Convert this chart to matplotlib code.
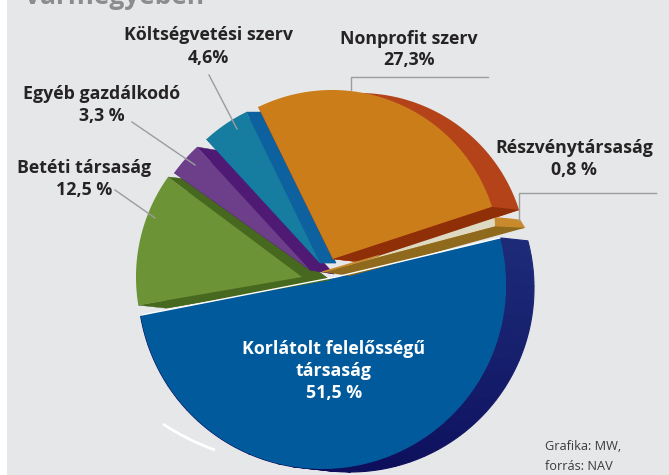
"""Pie chart of company forms, drawn by hand so the exploded 3D look can be kept."""
import numpy as np
import matplotlib
matplotlib.use("Agg")
import matplotlib.pyplot as plt
from matplotlib.colors import to_rgb
from matplotlib.patches import PathPatch, Polygon, Rectangle
from matplotlib.path import Path

plt.rcParams["font.family"] = "Open Sans"

# clockwise from the Nonprofit slice
categories = ["Nonprofit szerv", "Részvénytársaság", "Korlátolt felelősségű\ntársaság",
              "Betéti társaság", "Egyéb gazdálkodó", "Költségvetési szerv"]
values = [27.3, 0.8, 51.5, 12.5, 3.3, 4.6]
value_labels = ["27,3%", "0,8 %", "51,5 %", "12,5 %", "3,3 %", "4,6%"]

START = 116.0  # degrees, top edge of the Nonprofit slice
BG = "#e6e7e9"
LEAD = "#9b9c9e"
INK = "#262324"

# slice look: arc centre x, y, radius at both arc ends, apex x, y, wall shift x, y, face, wall
geo = [
    (332, 258, 168, 168, 333, 259, 27, 3, "#cb7d1a", "#b5431a"),
    (323, 272, 180, 204, 323, 272, 5, 8, "#c98a2e", "#c98a2e"),
    (322, 285, 184, 184, 336, 277, 28, 3, "#005a9b", "#1c2a78"),
    (308, 277, 172, 172, 302, 277, 28, 3, "#6c9335", "#47681f"),
    (310, 270, 167, 167, 310, 270, 24, 4, "#6d3f8b", "#4f1a73"),
    (320, 263, 168, 168, 320, 263, 16, 0, "#167ca0", "#0e619f"),
]

# text centres of the labels, name line then value line
label_pos = [(409, 39, 60), (574, 148, 170), (334, 349, 393),
             (84, 168, 190), (102, 94, 116), (208, 35, 58)]

leaders = [
    [(351, 90), (351, 77), (488, 77)],
    [(519, 220), (519, 193), (656, 193)],
    [(115, 190), (155, 218)],
    [(132, 122), (195, 165)],
    [(209, 75), (237, 129)],
]


def arc(g, a0, a1, n=80):
    t = np.linspace(0, 1, n)
    ang = np.radians(a0 + (a1 - a0) * t)
    r = g[2] + (g[3] - g[2]) * t
    return np.column_stack([g[0] + r * np.cos(ang), g[1] - r * np.sin(ang)])


def draw_slice(ax, g, a0, a1):
    pts = np.vstack([arc(g, a0, a1), [g[4:6]]])
    d = np.array(g[6:8])
    ax.add_patch(Polygon(pts + d, closed=True, facecolor=g[9], edgecolor="none"))
    # side walls so the extrusion joins the face
    for c in (pts[0], pts[-2]):
        ax.add_patch(Polygon([c, c + d, pts[-1] + d, pts[-1]], closed=True,
                             facecolor=g[9], edgecolor=g[9], lw=0.3))
    ax.add_patch(Polygon(pts, closed=True, facecolor=g[8], edgecolor="none"))
    return pts


fig = plt.figure(figsize=(6.69, 4.75), dpi=100, facecolor="white")
ax = fig.add_axes([0, 0, 1, 1])
ax.set_xlim(0, 669)
ax.set_ylim(475, 0)
ax.axis("off")
ax.add_patch(Rectangle((7, 0), 662, 475, facecolor=BG, edgecolor="none"))

ax.text(25, -4, "vármegyében", fontsize=19, fontweight="bold", color="#8a8c8e",
        ha="left", va="center")

# slice angles come straight from the values
spans = np.array(values) * 3.6
ends = START - np.cumsum(spans)
starts = ends + spans
a0s, a1s = starts, ends

# big slice goes first, the others sit on top of its edge
blue = geo[2]
seg = np.linspace(a0s[2], a1s[2], 40)
wall_top, wall_bottom = np.array(to_rgb("#1c2a78")), np.array(to_rgb("#0d0f5c"))
for i in range(len(seg) - 1):
    part = arc(blue, seg[i], seg[i + 1], 6)
    quad = np.vstack([part, (part + np.array(blue[6:8]))[::-1]])
    col = wall_top + (wall_bottom - wall_top) * min(i / 18, 1)
    ax.add_patch(Polygon(quad, closed=True, edgecolor=col, facecolor=col, lw=0.8))
blue_pts = np.vstack([arc(blue, a0s[2], a1s[2]), [blue[4:6]]])
ax.add_patch(Polygon(blue_pts, closed=True, facecolor=blue[8], edgecolor="none"))
ax.plot(blue_pts[[-2, -1, 0], 0], blue_pts[[-2, -1, 0], 1], color="white", lw=1.0)

for k in (3, 4, 5):
    draw_slice(ax, geo[k], a0s[k], a1s[k])

# orange: darker strip along the straight edge
g = geo[0]
pts = draw_slice(ax, g, a0s[0], a1s[0])
corner = pts[-2]
d = np.array(g[6:8])

# gold sliver: bright tip, pale face, dark strip along the lower edge
g = geo[1]
tip = arc(g, a0s[1], a1s[1])
apex = np.array(g[4:6])
ax.add_patch(Polygon(np.vstack([tip, tip[-1] + g[6:8], apex]), closed=True,
                     facecolor=g[8], edgecolor="none"))
pale = (g[0], g[1], g[2], g[2] - 2) + g[4:]
pale_arc = arc(pale, a0s[1], a1s[1])
ax.add_patch(Polygon(np.vstack([pale_arc, apex]), closed=True,
                     facecolor="#ddd9c3", edgecolor="none"))
ax.add_patch(Polygon([apex, pale_arc[-1], tip[-1] + g[6:8], apex + (27, 4)], closed=True,
                     facecolor="#8f6a1c", edgecolor="none"))
ax.plot([apex[0], apex[0] + 55], [apex[1], apex[1] - 16], color=g[8], lw=1.2)

# orange strip stays above the gold sliver
orange_apex = np.array(geo[0][4:6])
ax.add_patch(Polygon([corner, corner + d, orange_apex + d, orange_apex], closed=True,
                     facecolor="#8f2f08", edgecolor="none"))

# white highlight under the pie
ax.add_patch(PathPatch(Path([(163, 424), (187, 440), (215, 450)],
                            [Path.MOVETO, Path.CURVE3, Path.CURVE3]),
                       facecolor="none", edgecolor="white", lw=2.0))

for line in leaders:
    xs, ys = zip(*line)
    ax.plot(xs, ys, color=LEAD, lw=1.0)

FS = 12.8
for name, val, (x, y_name, y_val) in zip(categories, value_labels, label_pos):
    col = "white" if "Korl" in name else INK
    if "\n" in name:
        first, second = name.split("\n")
        ax.text(x, y_name, first, fontsize=FS, fontweight="bold", color=col, ha="center", va="center")
        ax.text(x, (y_name + y_val) / 2, second, fontsize=FS, fontweight="bold", color=col,
                ha="center", va="center")
    else:
        ax.text(x, y_name, name, fontsize=FS, fontweight="bold", color=col, ha="center", va="center")
    ax.text(x, y_val, val, fontsize=FS, fontweight="bold", color=col, ha="center", va="center")

ax.text(545, 447, "Grafika: MW,", fontsize=9.2, color="#3c3c3c", ha="left", va="center")
ax.text(545, 466, "forrás: NAV", fontsize=9.2, color="#3c3c3c", ha="left", va="center")

fig.savefig("out.png", dpi=100, facecolor="white")
